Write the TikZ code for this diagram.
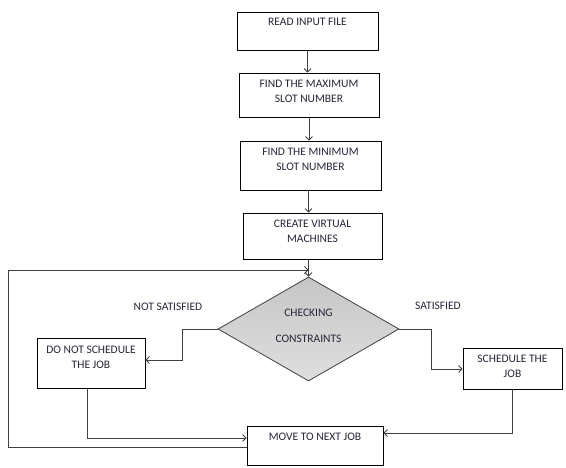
\documentclass[tikz,border=0pt]{standalone}
\usepackage{fontspec}
\setmainfont{Carlito}
\usetikzlibrary{shapes.geometric,arrows.meta}
\definecolor{txt}{rgb}{0.15,0.15,0.22}
\definecolor{ln}{rgb}{0.25,0.25,0.25}
\tikzset{
  box/.style={draw=black, line width=0.8bp, fill=white, inner sep=0pt, rectangle},
  lbl/.style={font=\fontsize{11.5bp}{15bp}\selectfont, text=txt, inner sep=0pt, align=center},
  conn/.style={draw=ln, line width=0.8bp},
  arr/.style={conn, -{Straight Barb[length=3.5bp,width=7bp,line width=0.8bp]}},
}
\begin{document}
\begin{tikzpicture}[x=1bp,y=-1bp]
\useasboundingbox (0,0) rectangle (566,468);
\node[box, minimum width=141bp, minimum height=38bp] (b1) at (307.5,31) {};
\node[lbl] (t1) at (307.5,22) {READ INPUT FILE};
\node[box, minimum width=140bp, minimum height=44bp] (b2) at (309,95) {};
\node[lbl] (t2) at (309,91.5) {FIND THE MAXIMUM\\SLOT NUMBER};
\node[box, minimum width=141bp, minimum height=49bp] (b3) at (310.5,165.5) {};
\node[lbl] (t3) at (310.5,159.5) {FIND THE MINIMUM\\SLOT NUMBER};
\node[box, minimum width=139bp, minimum height=46bp] (b4) at (312.5,236) {};
\node[lbl] (t4) at (312.5,231) {CREATE VIRTUAL\\MACHINES};
\node[diamond, draw=ln, line width=0.8bp, inner sep=0pt, minimum width=181bp, minimum height=104bp,
  top color=gray!45, bottom color=gray!25] (d) at (308.5,329) {};
\node[lbl, font=\fontsize{11.5bp}{26bp}\selectfont] (td) at (308.5,326) {CHECKING\\CONSTRAINTS};
\node[box, minimum width=108bp, minimum height=50bp] (ns) at (91,363) {};
\node[lbl] (tns) at (91,357) {DO NOT SCHEDULE\\THE JOB};
\node[box, minimum width=99bp, minimum height=41bp] (s) at (512.5,368.5) {};
\node[lbl] (ts) at (512.5,366.5) {SCHEDULE THE\\JOB};
\node[box, minimum width=136bp, minimum height=39bp] (mv) at (315,445.5) {};
\node[lbl] (tmv) at (315,437) {MOVE TO NEXT JOB};
\node[lbl] (lns) at (168,307) {NOT SATISFIED};
\node[lbl] (ls) at (438,306) {SATISFIED};
\coordinate (L1) at (8,447);
\coordinate (L2) at (8,270);
\coordinate (c1) at (182,360);
\coordinate (c2) at (87,438);
\coordinate (c3) at (431,369);
\coordinate (c4) at (512,433);
\draw[arr] (b1.south) -- (b1.south |- b2.north);
\draw[arr] (b2.south) -- (b2.south |- b3.north);
\draw[arr] (b3.south -| d.north) -- (d.north |- b4.north);
\draw[arr] (d.north |- b4.south) -- (d.north);
\draw[arr] (mv.west |- L1) -- (L1) -- (L2) -- (L2 -| d.north);
\draw[arr] (d.west) -| (c1) -- (c1 -| ns.east);
\draw[arr] (c2 |- ns.south) -- (c2) -- (c2 -| mv.west);
\draw[arr] (d.east) -| (c3) -- (c3 -| s.west);
\draw[arr] (c4 |- s.south) -- (c4) -- (c4 -| mv.east);
\end{tikzpicture}
\end{document}
